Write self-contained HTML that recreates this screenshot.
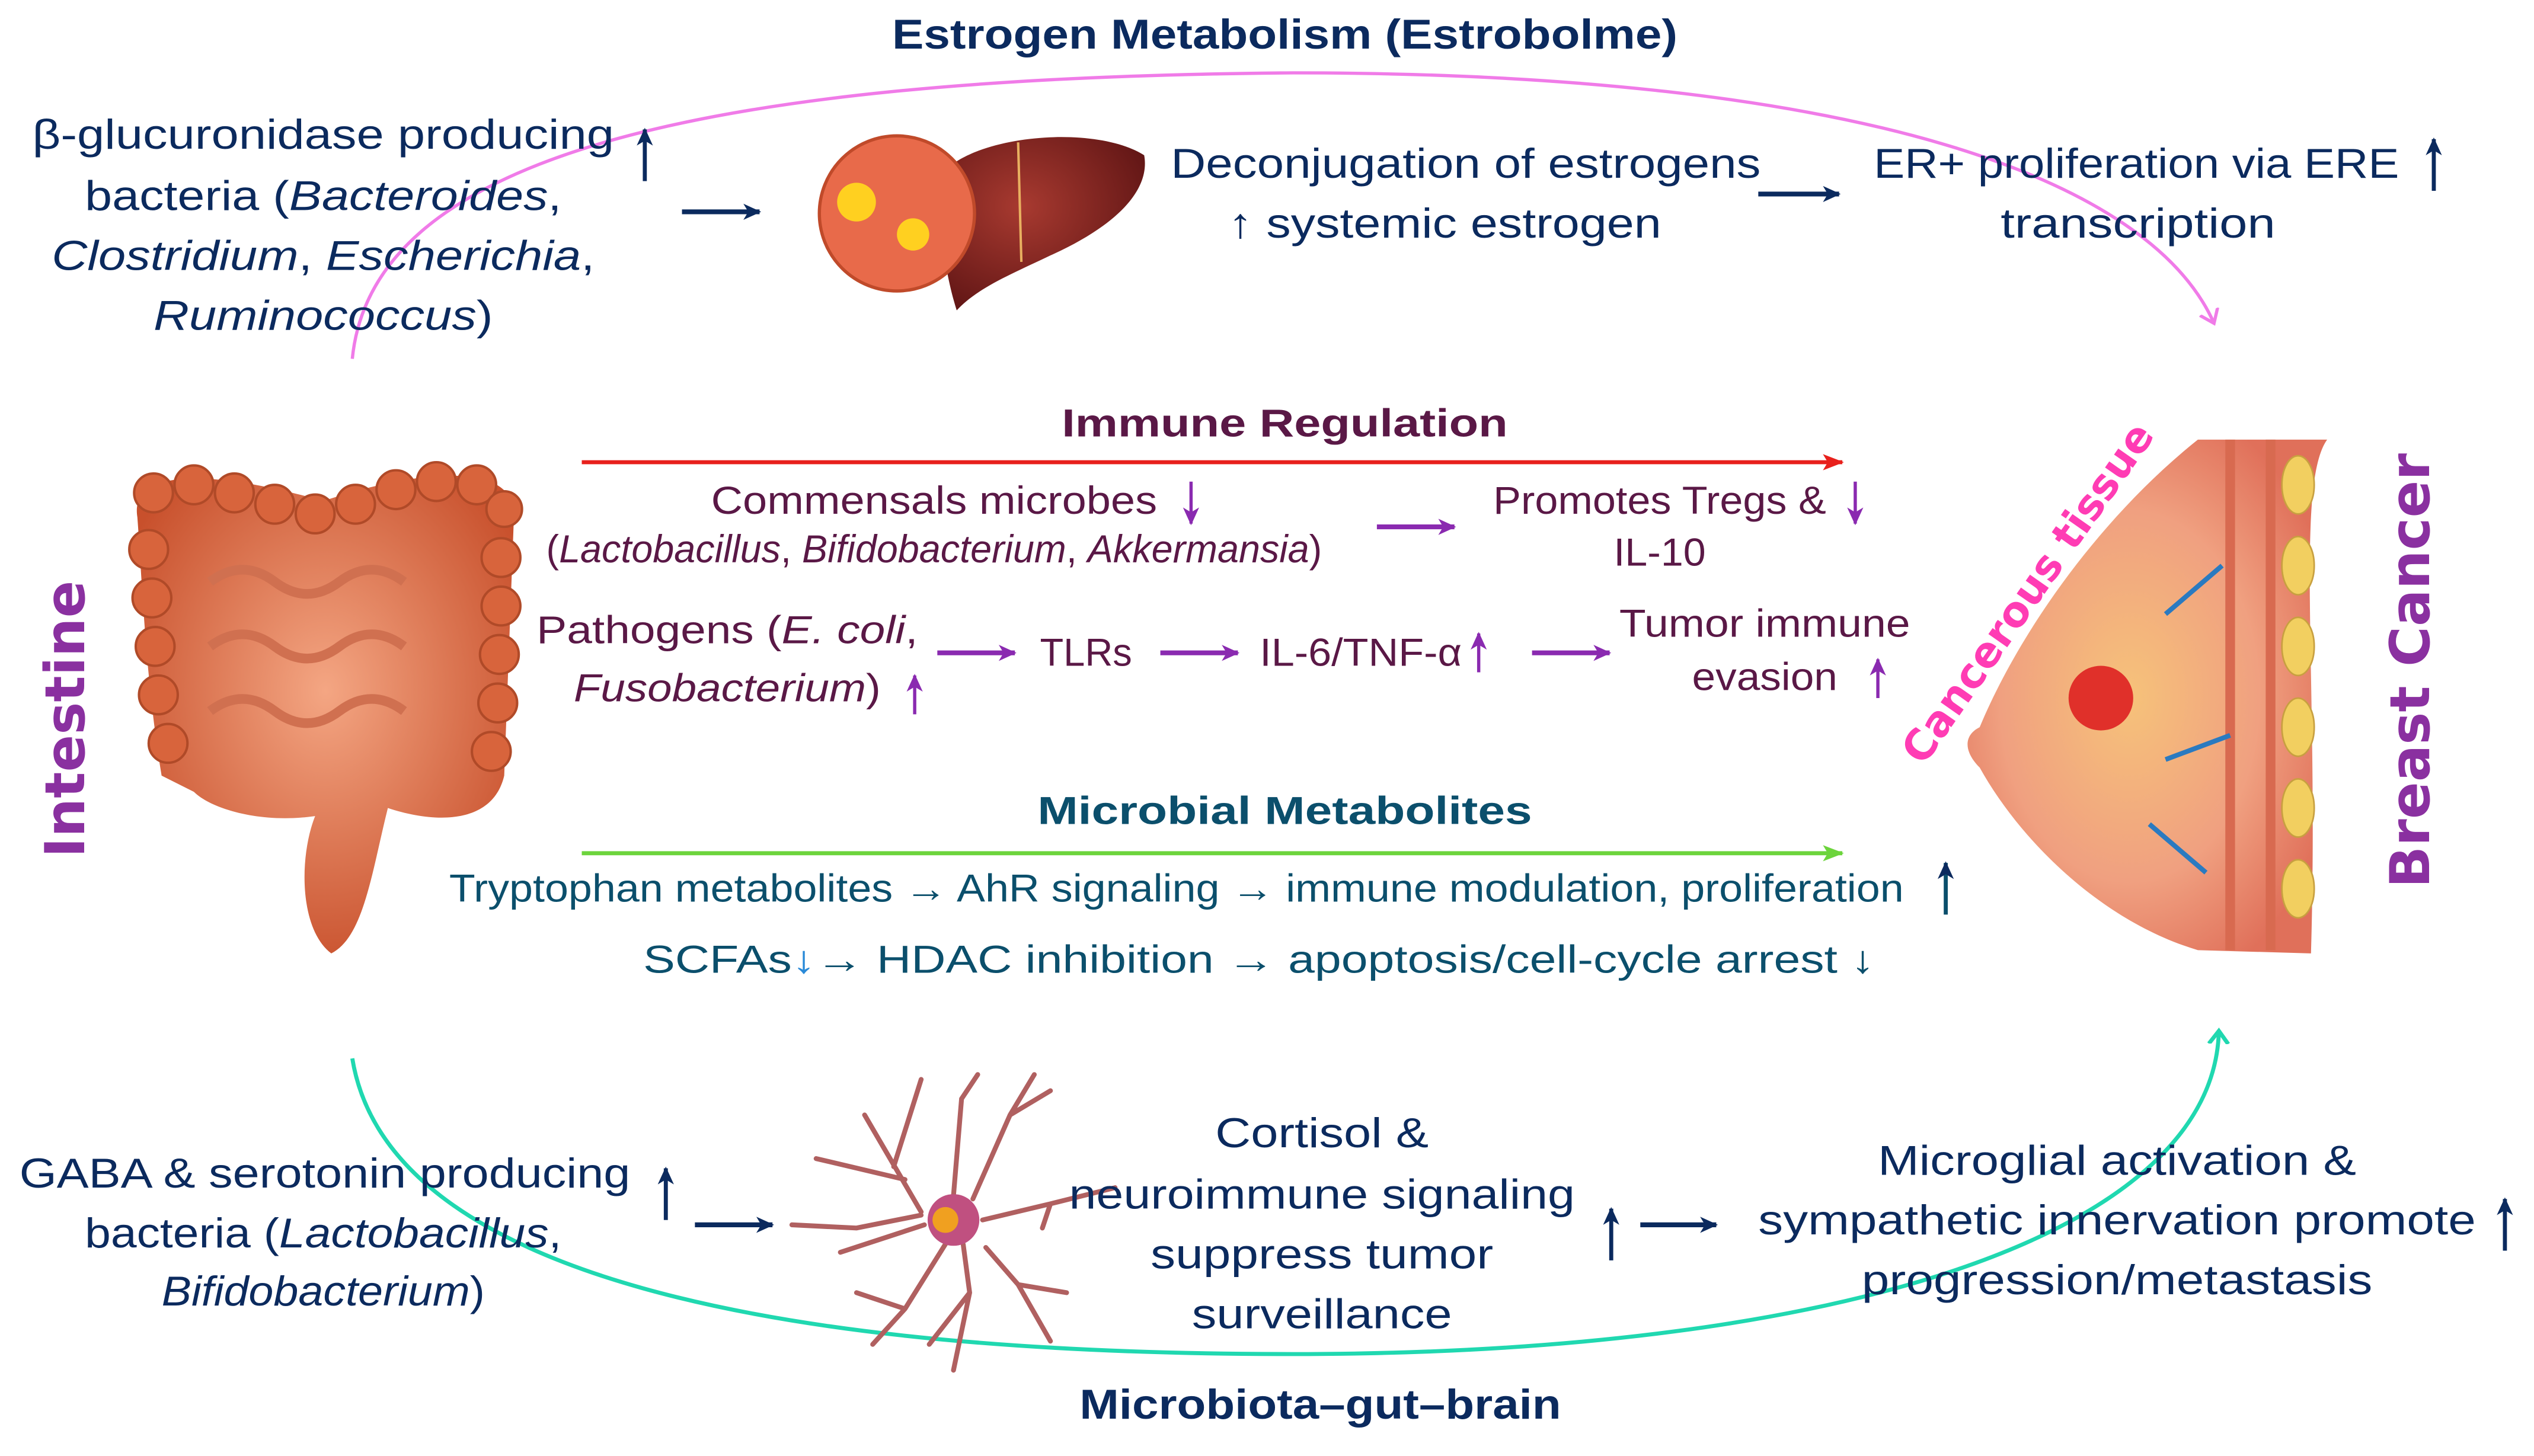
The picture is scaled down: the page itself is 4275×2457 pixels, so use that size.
<!DOCTYPE html>
<html><head><meta charset="utf-8"><style>
html,body{margin:0;padding:0;background:#fff;}
svg{display:block;}
text{font-family:"Liberation Sans Narrow","Liberation Sans",sans-serif;}
.n{fill:#0b2a5e;font-size:26px;}
.m{fill:#5a1846;font-size:24px;}
.t{fill:#0b4f6c;font-size:24px;}
.b{font-weight:bold;}
</style></head><body>
<svg width="4275" height="2457" viewBox="0 0 1568 901" xmlns="http://www.w3.org/2000/svg">
<defs>
<marker id="aN" markerWidth="12" markerHeight="12" refX="10" refY="6" orient="auto" markerUnits="userSpaceOnUse"><path d="M0,1 L11,6 L0,11 L3,6z" fill="#0b2a5e"/></marker>
<marker id="aP" markerWidth="12" markerHeight="12" refX="10" refY="6" orient="auto" markerUnits="userSpaceOnUse"><path d="M0,1 L11,6 L0,11 L3,6z" fill="#8a2ab0"/></marker>
<marker id="aR" markerWidth="14" markerHeight="12" refX="12" refY="6" orient="auto" markerUnits="userSpaceOnUse"><path d="M0,1 L13,6 L0,11 L3,6z" fill="#e8201c"/></marker>
<marker id="aG" markerWidth="14" markerHeight="12" refX="12" refY="6" orient="auto" markerUnits="userSpaceOnUse"><path d="M0,1 L13,6 L0,11 L3,6z" fill="#6cd43c"/></marker>
<marker id="aK" markerWidth="16" markerHeight="16" refX="8" refY="8" orient="auto" markerUnits="userSpaceOnUse"><path d="M0,2 L8,8 L0,14" fill="none" stroke="#f07be8" stroke-width="2"/></marker>
<marker id="aT" markerWidth="16" markerHeight="16" refX="8" refY="8" orient="auto" markerUnits="userSpaceOnUse"><path d="M0,2 L8,8 L0,14" fill="none" stroke="#20d8b0" stroke-width="2.5"/></marker>
<radialGradient id="gi" cx="50%" cy="45%" r="60%"><stop offset="0" stop-color="#f4a683"/><stop offset="1" stop-color="#c8502c"/></radialGradient>
<radialGradient id="gl" cx="40%" cy="40%" r="70%"><stop offset="0" stop-color="#a83a30"/><stop offset="1" stop-color="#5e1414"/></radialGradient>
<radialGradient id="gb" cx="45%" cy="50%" r="60%"><stop offset="0" stop-color="#f6c27a"/><stop offset="0.6" stop-color="#f0a080"/><stop offset="1" stop-color="#e0705a"/></radialGradient>
</defs>

<path d="M218,222 C230,100 420,48 800,45 C1150,45 1330,110 1370,200" fill="none" stroke="#f07be8" stroke-width="2" marker-end="url(#aK)"/>
<path d="M218,655 C240,790 480,838 800,838 C1150,838 1370,760 1373,638" fill="none" stroke="#20d8b0" stroke-width="2.5" marker-end="url(#aT)"/>

<!-- Estrogen -->
<text x="795" y="30" text-anchor="middle" class="n b" font-size="26" textLength="486" lengthAdjust="spacingAndGlyphs">Estrogen Metabolism (Estrobolme)</text>
<text x="200" y="92" text-anchor="middle" class="n" textLength="360" lengthAdjust="spacingAndGlyphs">β-glucuronidase producing</text>
<text x="200" y="130" text-anchor="middle" class="n" textLength="295" lengthAdjust="spacingAndGlyphs">bacteria (<tspan font-style="italic">Bacteroides</tspan>,</text>
<text x="200" y="167" text-anchor="middle" class="n" font-style="italic" textLength="336" lengthAdjust="spacingAndGlyphs">Clostridium<tspan font-style="normal">, </tspan>Escherichia<tspan font-style="normal">,</tspan></text>
<text x="200" y="204" text-anchor="middle" class="n" textLength="210" lengthAdjust="spacingAndGlyphs"><tspan font-style="italic">Ruminococcus</tspan>)</text>
<line x1="399" y1="112" x2="399" y2="80" stroke="#0b2a5e" stroke-width="2.5" marker-end="url(#aN)"/>
<line x1="422" y1="131" x2="470" y2="131" stroke="#0b2a5e" stroke-width="3" marker-end="url(#aN)"/>
<path d="M585,105 C610,82 680,78 708,96 C712,118 690,140 650,158 C625,170 605,178 592,192 C585,170 578,130 585,105z" fill="url(#gl)"/>
<line x1="630" y1="88" x2="632" y2="162" stroke="#e8b060" stroke-width="1.5"/>
<circle cx="555" cy="132" r="48" fill="#e86a4a" stroke="#c04a2a" stroke-width="2"/>
<circle cx="530" cy="125" r="12" fill="#ffd020"/><circle cx="565" cy="145" r="10" fill="#ffd020"/>
<text x="907" y="110" text-anchor="middle" class="n" textLength="365" lengthAdjust="spacingAndGlyphs">Deconjugation of estrogens</text>
<text x="894" y="147" text-anchor="middle" class="n" textLength="268" lengthAdjust="spacingAndGlyphs">↑ systemic estrogen</text>
<line x1="1088" y1="120" x2="1138" y2="120" stroke="#0b2a5e" stroke-width="3" marker-end="url(#aN)"/>
<text x="1322" y="110" text-anchor="middle" class="n" textLength="325" lengthAdjust="spacingAndGlyphs">ER+ proliferation via ERE</text>
<line x1="1506" y1="118" x2="1506" y2="86" stroke="#0b2a5e" stroke-width="2.5" marker-end="url(#aN)"/>
<text x="1323" y="147" text-anchor="middle" class="n" textLength="170" lengthAdjust="spacingAndGlyphs">transcription</text>

<!-- Immune -->
<text x="795" y="270" text-anchor="middle" class="m b" font-size="26" textLength="276" lengthAdjust="spacingAndGlyphs">Immune Regulation</text>
<line x1="360" y1="286" x2="1140" y2="286" stroke="#e8201c" stroke-width="2.5" marker-end="url(#aR)"/>
<text x="578" y="318" text-anchor="middle" class="m" textLength="276" lengthAdjust="spacingAndGlyphs">Commensals microbes</text>
<line x1="737" y1="298" x2="737" y2="324" stroke="#8a2ab0" stroke-width="2" marker-end="url(#aP)"/>
<text x="578" y="348" text-anchor="middle" class="m" font-size="21" textLength="480" lengthAdjust="spacingAndGlyphs">(<tspan font-style="italic">Lactobacillus</tspan>, <tspan font-style="italic">Bifidobacterium</tspan>, <tspan font-style="italic">Akkermansia</tspan>)</text>
<line x1="852" y1="326" x2="900" y2="326" stroke="#8a2ab0" stroke-width="3" marker-end="url(#aP)"/>
<text x="1027" y="318" text-anchor="middle" class="m" textLength="206" lengthAdjust="spacingAndGlyphs">Promotes Tregs &amp;</text>
<line x1="1148" y1="298" x2="1148" y2="324" stroke="#8a2ab0" stroke-width="2" marker-end="url(#aP)"/>
<text x="1027" y="350" text-anchor="middle" class="m" textLength="57" lengthAdjust="spacingAndGlyphs">IL-10</text>
<text x="450" y="398" text-anchor="middle" class="m" font-size="26" textLength="236" lengthAdjust="spacingAndGlyphs">Pathogens (<tspan font-style="italic">E. coli</tspan>,</text>
<text x="450" y="434" text-anchor="middle" class="m" textLength="190" lengthAdjust="spacingAndGlyphs"><tspan font-style="italic">Fusobacterium</tspan>)</text>
<line x1="566" y1="442" x2="566" y2="418" stroke="#8a2ab0" stroke-width="2" marker-end="url(#aP)"/>
<line x1="580" y1="404" x2="628" y2="404" stroke="#8a2ab0" stroke-width="3" marker-end="url(#aP)"/>
<text x="672" y="412" text-anchor="middle" class="m" textLength="57" lengthAdjust="spacingAndGlyphs">TLRs</text>
<line x1="718" y1="404" x2="766" y2="404" stroke="#8a2ab0" stroke-width="3" marker-end="url(#aP)"/>
<text x="842" y="412" text-anchor="middle" class="m" textLength="125" lengthAdjust="spacingAndGlyphs">IL-6/TNF-α</text>
<line x1="915" y1="416" x2="915" y2="392" stroke="#8a2ab0" stroke-width="2" marker-end="url(#aP)"/>
<line x1="948" y1="404" x2="996" y2="404" stroke="#8a2ab0" stroke-width="3" marker-end="url(#aP)"/>
<text x="1092" y="394" text-anchor="middle" class="m" textLength="180" lengthAdjust="spacingAndGlyphs">Tumor immune</text>
<text x="1092" y="427" text-anchor="middle" class="m" textLength="90" lengthAdjust="spacingAndGlyphs">evasion</text>
<line x1="1162" y1="432" x2="1162" y2="408" stroke="#8a2ab0" stroke-width="2" marker-end="url(#aP)"/>

<!-- Metabolites -->
<text x="795" y="510" text-anchor="middle" class="t b" font-size="26" textLength="306" lengthAdjust="spacingAndGlyphs">Microbial Metabolites</text>
<line x1="360" y1="528" x2="1140" y2="528" stroke="#6cd43c" stroke-width="2.5" marker-end="url(#aG)"/>
<text x="728" y="558" text-anchor="middle" class="t" textLength="900" lengthAdjust="spacingAndGlyphs">Tryptophan metabolites → AhR signaling → immune modulation, proliferation</text>
<line x1="1204" y1="566" x2="1204" y2="534" stroke="#0b4f6c" stroke-width="2.5" marker-end="url(#aN)"/>
<text x="779" y="602" text-anchor="middle" class="t" font-size="27" textLength="762" lengthAdjust="spacingAndGlyphs">SCFAs<tspan fill="#2a8ad8">↓</tspan>→ HDAC inhibition →  apoptosis/cell-cycle arrest ↓</text>

<!-- Gut brain -->
<text x="201" y="735" text-anchor="middle" class="n" textLength="378" lengthAdjust="spacingAndGlyphs">GABA &amp; serotonin producing</text>
<line x1="412" y1="755" x2="412" y2="723" stroke="#0b2a5e" stroke-width="2.5" marker-end="url(#aN)"/>
<text x="200" y="772" text-anchor="middle" class="n" textLength="295" lengthAdjust="spacingAndGlyphs">bacteria (<tspan font-style="italic">Lactobacillus</tspan>,</text>
<text x="200" y="808" text-anchor="middle" class="n" font-size="24" textLength="200" lengthAdjust="spacingAndGlyphs"><tspan font-style="italic">Bifidobacterium</tspan>)</text>
<line x1="430" y1="758" x2="478" y2="758" stroke="#0b2a5e" stroke-width="3" marker-end="url(#aN)"/>
<g stroke="#b06060" stroke-width="3" fill="none" stroke-linecap="round">
<path d="M570,750 L535,690 M553,722 L570,668 M560,730 L505,717 M570,752 L530,760 L490,758 M572,758 L520,775 M585,770 L560,810 L540,832 M560,810 L530,800 M596,770 L600,800 L590,848 M600,800 L575,832 M610,772 L630,795 L660,800 M630,795 L650,830 M608,755 L650,745 L690,735 M650,745 L645,760 M602,742 L625,690 L640,665 M625,690 L650,675 M590,740 L595,680 L605,665"/>
</g>
<circle cx="590" cy="755" r="16" fill="#c05080"/><circle cx="585" cy="755" r="8" fill="#f0a020"/>
<text x="818" y="710" text-anchor="middle" class="n" textLength="132" lengthAdjust="spacingAndGlyphs">Cortisol &amp;</text>
<text x="818" y="748" text-anchor="middle" class="n" textLength="313" lengthAdjust="spacingAndGlyphs">neuroimmune signaling</text>
<text x="818" y="785" text-anchor="middle" class="n" textLength="212" lengthAdjust="spacingAndGlyphs">suppress tumor</text>
<text x="818" y="822" text-anchor="middle" class="n" textLength="161" lengthAdjust="spacingAndGlyphs">surveillance</text>
<line x1="997" y1="780" x2="997" y2="748" stroke="#0b2a5e" stroke-width="2.5" marker-end="url(#aN)"/>
<line x1="1015" y1="758" x2="1062" y2="758" stroke="#0b2a5e" stroke-width="3" marker-end="url(#aN)"/>
<text x="1310" y="727" text-anchor="middle" class="n" textLength="296" lengthAdjust="spacingAndGlyphs">Microglial activation &amp;</text>
<text x="1310" y="764" text-anchor="middle" class="n" textLength="444" lengthAdjust="spacingAndGlyphs">sympathetic innervation promote</text>
<line x1="1550" y1="774" x2="1550" y2="742" stroke="#0b2a5e" stroke-width="2.5" marker-end="url(#aN)"/>
<text x="1310" y="801" text-anchor="middle" class="n" textLength="316" lengthAdjust="spacingAndGlyphs">progression/metastasis</text>
<text x="817" y="878" text-anchor="middle" class="n b" font-size="26" fill="#0b3a4e" textLength="298" lengthAdjust="spacingAndGlyphs">Microbiota–gut–brain</text>

<!-- intestine -->
<g>
<path d="M85,320 C80,290 130,290 200,310 C260,290 320,285 318,320 L312,480 C305,510 270,510 240,500 C230,540 225,580 205,590 C185,575 185,530 195,505 C160,510 130,500 120,490 L100,480 C90,420 88,360 85,320z" fill="url(#gi)"/>
<g fill="#d8643c" stroke="#b04a28" stroke-width="1.5">
<circle cx="95" cy="305" r="12"/><circle cx="120" cy="300" r="12"/><circle cx="145" cy="305" r="12"/><circle cx="170" cy="312" r="12"/><circle cx="195" cy="318" r="12"/><circle cx="220" cy="312" r="12"/><circle cx="245" cy="303" r="12"/><circle cx="270" cy="298" r="12"/><circle cx="295" cy="300" r="12"/><circle cx="312" cy="315" r="11"/>
<circle cx="92" cy="340" r="12"/><circle cx="94" cy="370" r="12"/><circle cx="96" cy="400" r="12"/><circle cx="98" cy="430" r="12"/><circle cx="104" cy="460" r="12"/>
<circle cx="310" cy="345" r="12"/><circle cx="310" cy="375" r="12"/><circle cx="309" cy="405" r="12"/><circle cx="308" cy="435" r="12"/><circle cx="304" cy="465" r="12"/>
</g>
<path d="M130,360 q20,-15 40,0 t40,0 t40,0 M130,400 q20,-15 40,0 t40,0 t40,0 M130,440 q20,-15 40,0 t40,0 t40,0" stroke="#d07050" stroke-width="6" fill="none"/>
</g>
<text transform="translate(52,445) rotate(-90)" text-anchor="middle" font-weight="bold" font-size="34" fill="#8a30a0" style="font-family:'DejaVu Sans',sans-serif">Intestine</text>

<!-- breast -->
<path d="M1440,272 C1420,300 1435,420 1430,590 L1360,588 C1300,570 1250,520 1225,475 C1215,465 1215,455 1225,450 C1250,390 1300,320 1360,272z" fill="url(#gb)"/>
<path d="M1380,272 L1380,588 M1405,272 L1405,588" stroke="#d86a50" stroke-width="6"/>
<g fill="#f2cf60" stroke="#c8a040"><ellipse cx="1422" cy="300" rx="10" ry="18"/><ellipse cx="1422" cy="350" rx="10" ry="18"/><ellipse cx="1422" cy="400" rx="10" ry="18"/><ellipse cx="1422" cy="450" rx="10" ry="18"/><ellipse cx="1422" cy="500" rx="10" ry="18"/><ellipse cx="1422" cy="550" rx="10" ry="18"/></g>
<circle cx="1300" cy="432" r="20" fill="#e0302a"/>
<path d="M1340,380 L1375,350 M1340,470 L1380,455 M1330,510 L1365,540" stroke="#2a7ac0" stroke-width="3"/>
<text transform="translate(1262,372) rotate(-55)" text-anchor="middle" font-size="26" font-weight="bold" fill="#ff3cb4" style="font-family:'DejaVu Sans',sans-serif">Cancerous tissue</text>
<text transform="translate(1503,415) rotate(-90)" text-anchor="middle" font-size="34" font-weight="bold" fill="#8a30a0" style="font-family:'DejaVu Sans',sans-serif">Breast Cancer</text>
</svg>
</body></html>
